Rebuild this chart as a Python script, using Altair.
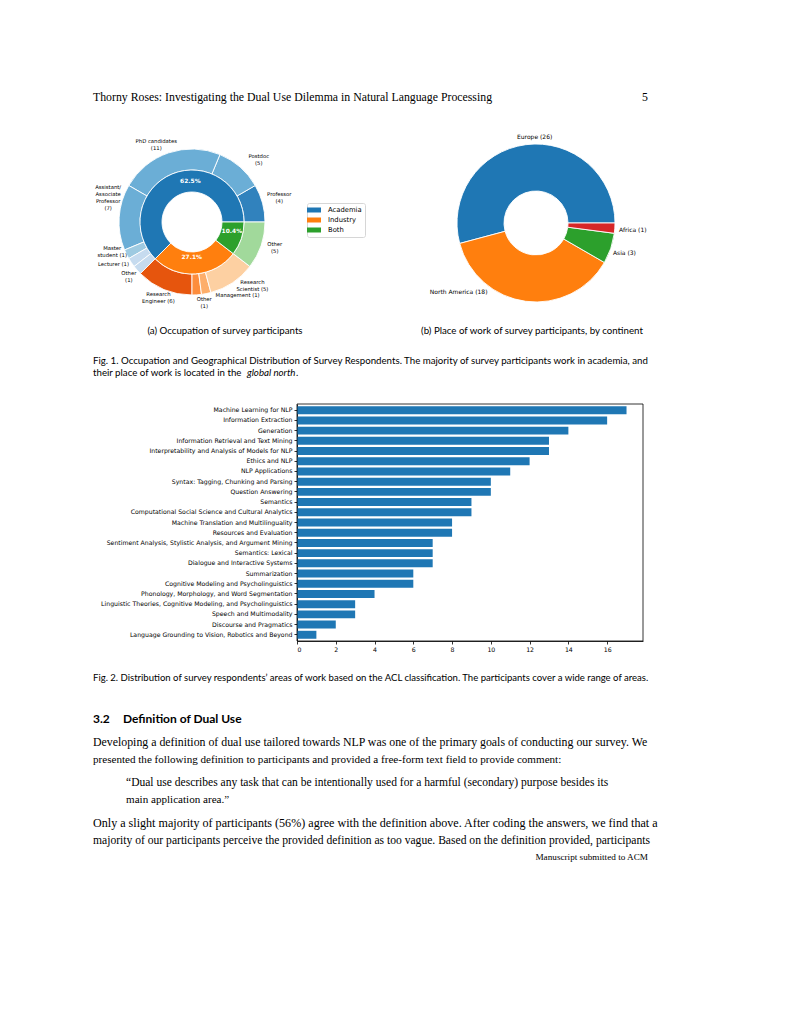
import math
import altair as alt
import pandas as pd

# ------------------------------------------------------------------ data
occ_groups = ["Academia", "Industry", "Both"]
occ_group_counts = [30, 13, 5]
occ_group_pct = ["62.5%", "27.1%", "10.4%"]
occ_group_colors = ["#1f77b4", "#ff7f0e", "#2ca02c"]

occ_roles = ["Professor\n(4)", "Postdoc\n(5)", "PhD candidates\n(11)",
             "Assistant/\nAssociate\nProfessor\n(7)", "Master\nstudent (1)",
             "Lecturer (1)", "Other\n(1)", "Research\nEngineer (6)", "Other\n(1)",
             "Management (1)", "Research\nScientist (5)", "Other\n(5)"]
occ_role_counts = [4, 5, 11, 7, 1, 1, 1, 6, 1, 1, 5, 5]
occ_role_colors = ["#3182bd", "#6baed6", "#6baed6", "#6baed6", "#9ecae1", "#c6dbef",
                   "#c6dbef", "#e6550d", "#fd8d3c", "#fdae6b", "#fdd0a2", "#a1d99b"]

continents = ["Europe (26)", "North America (18)", "Asia (3)", "Africa (1)"]
continent_counts = [26, 18, 3, 1]
continent_colors = ["#1f77b4", "#ff7f0e", "#2ca02c", "#d62728"]

areas = ["Machine Learning for NLP", "Information Extraction", "Generation",
         "Information Retrieval and Text Mining",
         "Interpretability and Analysis of Models for NLP", "Ethics and NLP",
         "NLP Applications", "Syntax: Tagging, Chunking and Parsing",
         "Question Answering", "Semantics",
         "Computational Social Science and Cultural Analytics",
         "Machine Translation and Multilinguality", "Resources and Evaluation",
         "Sentiment Analysis, Stylistic Analysis, and Argument Mining",
         "Semantics: Lexical", "Dialogue and Interactive Systems", "Summarization",
         "Cognitive Modeling and Psycholinguistics",
         "Phonology, Morphology, and Word Segmentation",
         "Linguistic Theories, Cognitive Modeling, and Psycholinguistics",
         "Speech and Multimodality", "Discourse and Pragmatics",
         "Language Grounding to Vision, Robotics and Beyond"]
area_counts = [17, 16, 14, 13, 13, 12, 11, 10, 10, 9, 9, 8, 8, 7, 7, 7, 6, 6, 4, 3, 3, 2, 1]
x_ticks = [0, 2, 4, 6, 8, 10, 12, 14, 16]

# ------------------------------------------------------------------ tables
def pie_table(labels, counts, colors, extra=None):
    rows = []
    for i, (lab, c, col) in enumerate(zip(labels, counts, colors)):
        r = dict(k=i, label=lab, n=c, col=col)
        if extra is not None:
            r["extra"] = extra[i]
        rows.append(r)
    return pd.DataFrame(rows)

df_inner = pie_table(occ_groups, occ_group_counts, occ_group_colors, occ_group_pct)
df_outer = pie_table(occ_roles, occ_role_counts, occ_role_colors)
df_cont = pie_table(continents, continent_counts, continent_colors)
df_bar = pd.DataFrame({"area": areas, "n": area_counts})

# ------------------------------------------------------------------ layout (page px -> chart px)
M = 8
W, H = 791 - 2 * M, 1024 - 2 * M
CXa, CYa = 192 - M, 222 - M
CXb, CYb = 536 - M, 223 - M
BX0, BX1, BY0, BY1 = 297 - M, 643 - M, 404 - M, 641 - M
XMAX = 17.85

SERIF = "Liberation Serif"
SANS = "Lato"
MPL = "DejaVu Sans"
LH = 7  # line height of the multi-line pie labels

# label nudges (dx, dy) from each slice's mid-angle anchor, in the order of the slices
NUDGE_A = [(10, -4), (14, -2), (-10, -2), (-4, -19), (-8, -6), (-12, -2),
           (-3, 2), (-3, 2), (7, 1), (30, -5), (16, -3), (7, 0)]
NUDGE_PCT = [(14, -3), (-3, -6), (1, -4)]
NUDGE_B = [(10, 0), (-66, -17), (6, 2), (10, 1)]

TH = alt.Scale(range=[math.pi / 2, math.pi / 2 + 2 * math.pi])
theta = alt.Theta("n:Q", stack=True, scale=TH)
order = alt.Order("k:Q", sort="descending")


def ring(df, cx, cy, r_out, r_in):
    return alt.Chart(df).mark_arc(outerRadius=r_out, innerRadius=r_in, stroke="white",
                                  strokeWidth=0.9).encode(
        theta=theta, order=order, fill=alt.Fill("col:N", scale=None),
        x=alt.value(cx), y=alt.value(cy))


def labels(df, field, cx, cy, radius, size, nudges, color="black", weight="normal"):
    out = []
    for i, (dx, dy) in enumerate(nudges):
        nlines = str(df[field].iloc[i]).count("\n") + 1
        out.append(alt.Chart(df).transform_calculate(
            t=f"datum.k == {i} ? datum['{field}'] : ''").mark_text(
            align="center", baseline="middle", radius=radius, lineBreak="\n",
            lineHeight=LH, font=MPL, fontSize=size, fontWeight=weight, color=color,
            dx=dx, dy=dy - (nlines - 1) * LH / 2).encode(
            theta=theta, order=order, text="t:N",
            x=alt.value(cx), y=alt.value(cy)))
    return out


inner = alt.Chart(df_inner).mark_arc(outerRadius=52, innerRadius=30, stroke="white",
                                     strokeWidth=0.9).encode(
    theta=theta, order=order,
    color=alt.Color("label:N", scale=alt.Scale(domain=occ_groups, range=occ_group_colors),
                    legend=alt.Legend(orient="none", legendX=307 - M, legendY=203 - M,
                                      title=None,
                                      symbolType="M-1.75,-0.625H1.75V0.625H-1.75Z",
                                      symbolSize=64, symbolStrokeWidth=0,
                                      labelFont=MPL, labelFontSize=6.8, labelColor="black",
                                      strokeColor="#d6d6d6", fillColor="white",
                                      padding=3, cornerRadius=2, rowPadding=2,
                                      labelOffset=10)),
    x=alt.value(CXa), y=alt.value(CYa))

outer = ring(df_outer, CXa, CYa, 73, 52)
cont = ring(df_cont, CXb, CYb, 79, 32)

bars = alt.Chart(df_bar).mark_bar(color="#1f77b4").encode(
    x=alt.X("n:Q", scale=alt.Scale(domain=[0, XMAX], range=[BX0, BX1], nice=False),
            axis=alt.Axis(values=x_ticks, title=None, grid=False, offset=BY1 - H,
                          labelFont=MPL, labelFontSize=6.2, labelColor="black",
                          tickColor="black", domainColor="black", tickSize=3,
                          labelPadding=2, domainWidth=0.8, tickWidth=0.8)),
    y=alt.Y("area:N", sort=None,
            scale=alt.Scale(range=[BY0, BY1], paddingInner=0.22, paddingOuter=0.22),
            axis=alt.Axis(title=None, grid=False, offset=-BX0, labelFont=MPL,
                          labelFontSize=6.2, labelColor="black", tickColor="black",
                          domainColor="black", tickSize=3, labelPadding=2,
                          labelLimit=0, domainWidth=0.8, tickWidth=0.8)))

frame = alt.Chart(alt.Data(values=[{}])).mark_rect(
    fill=None, stroke="black", strokeWidth=0.8).encode(
    x=alt.value(BX0), x2=alt.value(BX1), y=alt.value(BY0), y2=alt.value(BY1))


def txt(s, x, y, size, font, weight="normal", style="normal", align="left"):
    return alt.Chart(alt.Data(values=[{}])).mark_text(
        text=s, align=align, baseline="middle", font=font, fontSize=size,
        fontWeight=weight, fontStyle=style, color="black").encode(
        x=alt.value(x - M), y=alt.value(y - M))


CAP = 9.7
texts = [
    txt("Thorny Roses: Investigating the Dual Use Dilemma in Natural Language Processing",
        93, 97, 11.8, SERIF),
    txt("5", 648, 97, 11.8, SERIF, align="right"),
    txt("(a) Occupation of survey participants", 225, 331, CAP, SANS, align="center"),
    txt("(b) Place of work of survey participants, by continent", 532, 331, CAP, SANS,
        align="center"),
    txt("Fig. 1.  Occupation and Geographical Distribution of Survey Respondents. The majority "
        "of survey participants work in academia, and", 93, 361, CAP, SANS),
    txt("their place of work is located in the", 93, 373, CAP, SANS),
    txt("global north", 247, 373, CAP, SANS, style="italic"),
    txt(".", 296, 373, CAP, SANS),
    txt("Fig. 2.  Distribution of survey respondents\u2019 areas of work based on the ACL "
        "classification. The participants cover a wide range of areas.", 93, 678, 9.55, SANS),
    txt("3.2", 93, 719, 12, SANS, weight="bold"),
    txt("Definition of Dual Use", 123, 719, 12, SANS, weight="bold"),
    txt("Developing a definition of dual use tailored towards NLP was one of the primary goals "
        "of conducting our survey. We", 93, 742, 11.85, SERIF),
    txt("presented the following definition to participants and provided a free-form text "
        "field to provide comment:", 93, 760, 11.1, SERIF),
    txt("\u201cDual use describes any task that can be intentionally used for a harmful "
        "(secondary) purpose besides its", 126, 783, 11.55, SERIF),
    txt("main application area.\u201d", 126, 800, 11.1, SERIF),
    txt("Only a slight majority of participants (56%) agree with the definition above. After "
        "coding the answers, we find that a", 93, 823, 12.1, SERIF),
    txt("majority of our participants perceive the provided definition as too vague. Based on "
        "the definition provided, participants", 93, 841, 11.6, SERIF),
    txt("Manuscript submitted to ACM", 648, 857, 9.2, SERIF, align="right"),
]

layers = ([outer, inner]
          + labels(df_inner, "extra", CXa, CYa, 41, 5.9, NUDGE_PCT, "white", "bold")
          + labels(df_outer, "label", CXa, CYa, 80, 5.3, NUDGE_A)
          + [cont] + labels(df_cont, "label", CXb, CYb, 87, 6.0, NUDGE_B)
          + [bars, frame] + texts)

chart = alt.layer(*layers).properties(
    width=W, height=H, padding=0, autosize=alt.AutoSizeParams(type="none")
).configure_view(stroke=None)

chart.save("out.html", embed_options={"renderer": "svg", "actions": False})
